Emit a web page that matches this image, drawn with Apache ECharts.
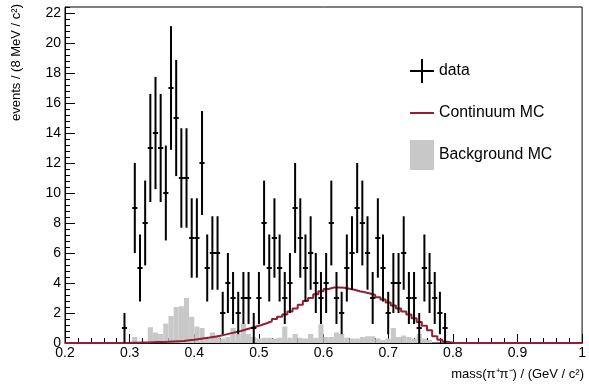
<!DOCTYPE html>
<html>
<head>
<meta charset="utf-8">
<script src="https://cdn.jsdelivr.net/npm/echarts@6/dist/echarts.min.js"></script>
<style>
  html, body { margin: 0; padding: 0; background: #fff; }
  #chart { width: 589px; height: 385px; }
</style>
</head>
<body>
<div id="chart"></div>
<script>
const X_MIN = 0.2;
const X_MAX = 1.0;
const BIN_WIDTH = 0.008; // 8 MeV bins

// events per bin, bin 0 starts at 0.2 GeV
const dataCounts = [
  0, 0, 0, 0, 0, 0, 0, 0, 0, 0,
  0, 1, 0, 9, 5, 8, 13, 14, 13, 10,
  17, 15, 11, 11, 7, 7, 12, 5, 6, 6,
  2, 4, 3, 2, 3, 3, 1, 3, 8, 5,
  7, 5, 3, 4, 9, 7, 5, 6, 4, 3,
  4, 8, 3, 2, 5, 6, 9, 8, 6, 3,
  7, 5, 2, 4, 4, 6, 3, 3, 1, 5,
  4, 3, 2, 1, 0, 0, 0, 0, 0, 0,
  0, 0, 0, 0, 0, 0, 0, 0, 0, 0,
  0, 0, 0, 0, 0, 0, 0, 0, 0, 0
];

const continuumMC = [
  0, 0, 0, 0, 0, 0, 0, 0, 0, 0,
  0, 0, 0.01, 0.02, 0.03, 0.04, 0.05, 0.06, 0.07, 0.08,
  0.1, 0.12, 0.14, 0.18, 0.22, 0.27, 0.32, 0.36, 0.42, 0.48,
  0.56, 0.64, 0.72, 0.8, 0.9, 1.0, 1.1, 1.2, 1.32, 1.45,
  1.6, 1.75, 1.9, 2.1, 2.3, 2.55, 2.8, 3.0, 3.25, 3.45,
  3.6, 3.7, 3.7, 3.68, 3.62, 3.55, 3.45, 3.38, 3.3, 3.2,
  3.05, 2.9, 2.7, 2.5, 2.3, 2.1, 1.9, 1.65, 1.4, 1.15,
  0.85, 0.45, 0.22, 0.08, 0.02, 0, 0, 0, 0, 0,
  0, 0, 0, 0, 0, 0, 0, 0, 0, 0,
  0, 0, 0, 0, 0, 0, 0, 0, 0, 0
];

const backgroundMC = [
  0, 0, 0, 0, 0, 0, 0, 0, 0, 0,
  0, 0, 0, 0.4, 0, 0, 1.05, 0.7, 0.6, 1.3,
  1.8, 2.4, 2.45, 3.0, 1.75, 1.1, 1.0, 0.3, 0.7, 0.4,
  0.3, 0.4, 1.0, 0.6, 1.3, 0.6, 0.4, 0.3, 0.35, 0.35,
  0.3, 0.35, 1.1, 0.35, 0.6, 0.35, 0.3, 0.6, 0.35, 1.25,
  0.4, 0.4, 0.7, 0.6, 0.35, 0.3, 0.3, 0.4, 0.45, 0.45,
  0.3, 0.2, 0.3, 1.0, 0.4, 0.5, 0.4, 0.3, 0.6, 0.3,
  0.2, 0, 0, 0, 0, 0, 0, 0, 0, 0,
  0, 0, 0, 0, 0, 0, 0, 0, 0, 0,
  0, 0, 0, 0, 0, 0, 0, 0, 0, 0
];

const seriesNames = ['data', 'Continuum MC', 'Background MC'];
const FONT = '"Liberation Sans", Arial, Helvetica, sans-serif';
const RED = '#961e32';
const GRAY = '#c8c8c8';

const binLo = (i) => +(X_MIN + i * BIN_WIDTH).toFixed(4);
const binHi = (i) => +(X_MIN + (i + 1) * BIN_WIDTH).toFixed(4);

// [lo, hi, count, error] -- zero bins are not drawn
const dataPoints = [];
dataCounts.forEach((n, i) => {
  if (n > 0) dataPoints.push([binLo(i), binHi(i), n, Math.sqrt(n)]);
});

const bgBins = backgroundMC.map((v, i) => [binLo(i), binHi(i), v]).filter((d) => d[2] > 0);

// step outline of the continuum histogram
const contLine = continuumMC.map((v, i) => [binLo(i), v]);
contLine.push([binHi(continuumMC.length - 1), continuumMC[continuumMC.length - 1]]);

const chart = echarts.init(document.getElementById('chart'), null, { renderer: 'canvas' });

const tickLabel = { color: '#000', fontFamily: FONT, fontSize: 14 };

// one legend block per entry so the rows sit where the reference has them
const legendIcons = [
  { icon: 'path://M0,11h24v2h-24z M11,0h2v24h-2z', color: '#000', top: 59 },
  { icon: 'path://M0,0h24v2h-24z', color: RED, top: 105 },
  { icon: 'path://M0,0h24v30h-24z', color: GRAY, top: 140 }
];

chart.setOption({
  animation: false,
  backgroundColor: '#fff',
  grid: {
    left: 65, right: 4, top: 7, bottom: 42,
    show: true, borderColor: '#000', borderWidth: 1, backgroundColor: 'transparent'
  },
  legend: legendIcons.map((l, i) => ({
    orient: 'vertical',
    left: 410, top: l.top, padding: 0,
    itemWidth: 24, itemHeight: 30, itemTextGap: 5,
    textStyle: { color: '#000', fontFamily: FONT, fontSize: 15.8 },
    data: [{ name: seriesNames[i], icon: l.icon, itemStyle: { color: l.color } }]
  })),
  xAxis: {
    type: 'value',
    min: X_MIN, max: X_MAX, interval: 0.1,
    axisLine: { show: true, lineStyle: { color: '#000', width: 1 } },
    axisTick: { show: true, inside: true, length: 9, lineStyle: { color: '#000' } },
    minorTick: { show: true, splitNumber: 5, length: 5, lineStyle: { color: '#000' } },
    splitLine: { show: false },
    axisLabel: {
      ...tickLabel, margin: 3,
      formatter: (v) => String(+v.toFixed(1))
    }
  },
  yAxis: [
    {
      type: 'value',
      min: 0, max: 22.4, interval: 2,
      axisLine: { show: true, lineStyle: { color: '#000', width: 1 } },
      axisTick: { show: true, inside: true, length: 10, lineStyle: { color: '#000' } },
      splitLine: { show: false },
      axisLabel: { ...tickLabel, margin: 4, showMaxLabel: false }
    },
    {
      type: 'value',
      position: 'left',
      min: 0, max: 22.4, interval: 0.4,
      axisLine: { show: false },
      axisTick: { show: true, inside: true, length: 5, lineStyle: { color: '#000' } },
      splitLine: { show: false },
      axisLabel: { show: false }
    }
  ],
  graphic: [
    {
      type: 'text', x: 16, y: 4, rotation: Math.PI / 2,
      style: {
        text: 'events / (8 MeV / c²)', fill: '#000',
        font: '13px ' + FONT, align: 'right', verticalAlign: 'middle'
      }
    },
    {
      type: 'text', x: 584, y: 374,
      style: {
        text: 'mass(π⁺π⁻) / (GeV / c²)', fill: '#000',
        font: '13px ' + FONT, align: 'right', verticalAlign: 'middle'
      }
    }
  ],
  series: [
    {
      name: seriesNames[2],
      type: 'custom',
      itemStyle: { color: GRAY },
      data: bgBins,
      z: 1,
      renderItem: (params, api) => {
        const p0 = api.coord([api.value(0), 0]);
        const p1 = api.coord([api.value(1), api.value(2)]);
        return {
          type: 'rect',
          shape: { x: p0[0], y: p1[1], width: p1[0] - p0[0], height: p0[1] - p1[1] },
          style: { fill: GRAY }
        };
      }
    },
    {
      name: seriesNames[1],
      type: 'line',
      step: 'end',
      symbol: 'none',
      data: contLine,
      z: 2,
      itemStyle: { color: RED },
      lineStyle: { color: RED, width: 2 }
    },
    {
      name: seriesNames[0],
      type: 'custom',
      itemStyle: { color: '#000' },
      data: dataPoints,
      z: 3,
      renderItem: (params, api) => {
        const lo = api.value(0), hi = api.value(1), v = api.value(2), e = api.value(3);
        const mid = (lo + hi) / 2;
        const top = api.coord([mid, v + e]);
        const bot = api.coord([mid, v - e]);
        const l = api.coord([lo, v]);
        const r = api.coord([hi, v]);
        return {
          type: 'group',
          children: [
            { type: 'line', shape: { x1: top[0], y1: top[1], x2: bot[0], y2: bot[1] }, style: { stroke: '#000', lineWidth: 2 } },
            { type: 'line', shape: { x1: l[0], y1: l[1], x2: r[0], y2: r[1] }, style: { stroke: '#000', lineWidth: 2 } }
          ]
        };
      }
    }
  ]
});
</script>
</body>
</html>
